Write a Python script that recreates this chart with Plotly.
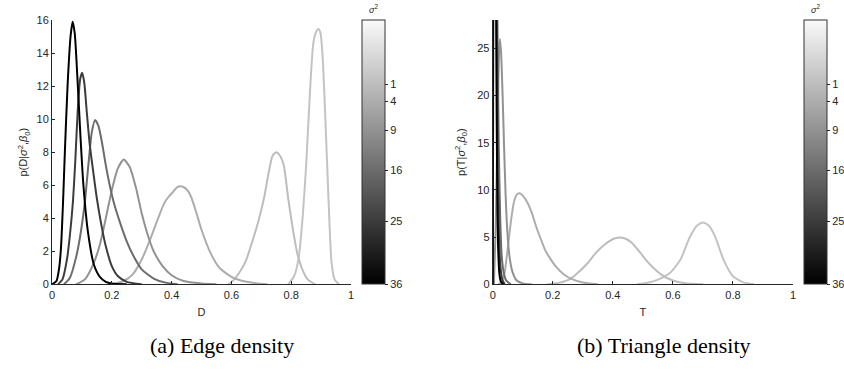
import plotly.graph_objects as go
from plotly.colors import sample_colorscale

W, H = 844, 370

# ---------------- data ----------------
sigma2_values = [0, 1, 4, 9, 16, 25, 36]
cbar_tick_values = [1, 4, 9, 16, 25, 36]
c_top = -10.2      # colour limit shown at the top of the colour bar
c_bottom = 36      # colour limit at the bottom

# (a) Edge density, one curve per sigma^2
edge_s0_x = [0.79, 0.81, 0.825, 0.838, 0.85, 0.862, 0.874, 0.884, 0.891, 0.898, 0.905, 0.913, 0.924, 0.935, 0.946, 0.96]
edge_s0_y = [0, 0.5, 1.6, 4.0, 7.2, 11.4, 14.6, 15.3, 15.45, 15.2, 13.8, 10.6, 5.5, 1.3, 0.26, 0]
edge_s1_x = [0.59, 0.61, 0.63, 0.65, 0.67, 0.69, 0.71, 0.725, 0.738, 0.75, 0.762, 0.775, 0.79, 0.805, 0.82, 0.835, 0.855, 0.88]
edge_s1_y = [0, 0.3, 0.8, 1.5, 2.6, 3.8, 5.3, 6.8, 7.8, 8.0, 7.8, 7.2, 5.2, 3.4, 1.9, 1.0, 0.3, 0]
edge_s4_x = [0.2, 0.24, 0.27, 0.3, 0.33, 0.355, 0.375, 0.39, 0.405, 0.42, 0.435, 0.45, 0.465, 0.48, 0.5, 0.53, 0.56, 0.6, 0.65, 0.72]
edge_s4_y = [0, 0.2, 0.6, 1.5, 2.8, 4.0, 4.9, 5.3, 5.6, 5.9, 5.92, 5.75, 5.3, 4.5, 3.3, 1.9, 1.0, 0.45, 0.15, 0]
edge_s9_x = [0.08, 0.11, 0.14, 0.16, 0.18, 0.2, 0.22, 0.24, 0.26, 0.28, 0.3, 0.32, 0.34, 0.37, 0.4, 0.44, 0.5, 0.55]
edge_s9_y = [0, 0.3, 1.3, 2.4, 4.0, 5.7, 7.0, 7.55, 7.1, 5.9, 4.3, 3.0, 2.0, 1.1, 0.55, 0.2, 0.05, 0]
edge_s16_x = [0.04, 0.06, 0.08, 0.095, 0.11, 0.122, 0.133, 0.144, 0.155, 0.167, 0.18, 0.193, 0.206, 0.23, 0.25, 0.27, 0.3, 0.34, 0.38, 0.42]
edge_s16_y = [0, 0.4, 1.6, 3.0, 5.0, 7.3, 9.2, 9.95, 9.6, 8.6, 7.2, 6.0, 5.0, 3.6, 2.6, 1.8, 0.9, 0.35, 0.1, 0]
edge_s25_x = [0.02, 0.035, 0.05, 0.06, 0.07, 0.078, 0.086, 0.094, 0.101, 0.108, 0.116, 0.126, 0.138, 0.15, 0.165, 0.18, 0.2, 0.22, 0.25, 0.3]
edge_s25_y = [0, 0.3, 1.5, 3.0, 5.0, 7.5, 10.5, 12.4, 12.8, 12.2, 10.5, 8.5, 6.8, 5.2, 3.6, 2.3, 1.1, 0.5, 0.15, 0]
edge_s36_x = [0.0, 0.015, 0.024, 0.03, 0.037, 0.043, 0.052, 0.062, 0.069, 0.076, 0.085, 0.095, 0.105, 0.12, 0.14, 0.16, 0.18, 0.2, 0.25]
edge_s36_y = [0, 0.2, 1.0, 2.2, 5.0, 8.0, 12.0, 15.0, 15.9, 15.2, 12.5, 9.0, 6.0, 3.2, 1.2, 0.45, 0.15, 0.05, 0]

# (b) Triangle density, one curve per sigma^2
tri_s0_x = [0.48, 0.52, 0.55, 0.59, 0.625, 0.655, 0.68, 0.7, 0.72, 0.74, 0.77, 0.8, 0.835, 0.87]
tri_s0_y = [0, 0.2, 0.5, 1.2, 2.6, 4.9, 6.2, 6.55, 6.2, 5.1, 2.5, 0.85, 0.2, 0]
tri_s1_x = [0.18, 0.22, 0.26, 0.29, 0.315, 0.34, 0.365, 0.385, 0.405, 0.425, 0.445, 0.465, 0.49, 0.515, 0.54, 0.565, 0.6, 0.64, 0.7]
tri_s1_y = [0, 0.15, 0.6, 1.4, 2.2, 3.2, 4.0, 4.5, 4.85, 4.97, 4.8, 4.35, 3.4, 2.4, 1.6, 0.95, 0.4, 0.12, 0]
tri_s4_x = [0.02, 0.03, 0.04, 0.05, 0.06, 0.07, 0.08, 0.09, 0.1, 0.115, 0.13, 0.145, 0.16, 0.175, 0.19, 0.21, 0.235, 0.26, 0.3, 0.35]
tri_s4_y = [0, 0.3, 1.3, 3.8, 6.5, 8.6, 9.5, 9.65, 9.4, 8.7, 7.6, 6.1, 4.8, 3.6, 2.8, 1.9, 1.1, 0.6, 0.2, 0]
tri_s9_x = [0.004, 0.01, 0.016, 0.021, 0.024, 0.028, 0.033, 0.038, 0.043, 0.048, 0.055, 0.065, 0.08, 0.1, 0.13]
tri_s9_y = [0, 6, 17, 24.5, 26, 24.5, 20, 14.5, 9.5, 6, 3.2, 1.4, 0.4, 0.1, 0]
tri_s16_x = [0.0, 0.003, 0.006, 0.01, 0.013, 0.016, 0.02, 0.025, 0.03, 0.037, 0.045, 0.06]
tri_s16_y = [0, 35, 60, 50, 38, 27, 15, 7, 3, 1.2, 0.4, 0]
tri_s25_x = [0.0, 0.002, 0.005, 0.008, 0.011, 0.014, 0.017, 0.021, 0.026, 0.032, 0.04]
tri_s25_y = [0, 50, 90, 70, 45, 26, 12, 5, 1.8, 0.5, 0]
tri_s36_x = [0.0, 0.001, 0.003, 0.006, 0.009, 0.012, 0.015, 0.018, 0.022, 0.027, 0.035]
tri_s36_y = [0, 60, 120, 90, 50, 25, 10, 4, 1.2, 0.3, 0]

edge_curves = [(edge_s0_x, edge_s0_y), (edge_s1_x, edge_s1_y), (edge_s4_x, edge_s4_y),
               (edge_s9_x, edge_s9_y), (edge_s16_x, edge_s16_y), (edge_s25_x, edge_s25_y),
               (edge_s36_x, edge_s36_y)]
tri_curves = [(tri_s0_x, tri_s0_y), (tri_s1_x, tri_s1_y), (tri_s4_x, tri_s4_y),
              (tri_s9_x, tri_s9_y), (tri_s16_x, tri_s16_y), (tri_s25_x, tri_s25_y),
              (tri_s36_x, tri_s36_y)]

x_ticks = [0, 0.2, 0.4, 0.6, 0.8, 1]
edge_y_ticks = [0, 2, 4, 6, 8, 10, 12, 14, 16]
tri_y_ticks = [0, 5, 10, 15, 20, 25]

# ---------------- styling ----------------
gray_scale = [[0, "rgb(0,0,0)"], [1, "rgb(250,250,250)"]]
cmin, cmax = -c_bottom, -c_top   # negated so that 36 sits at the bottom


def colour_for(s2):
    frac = (-s2 - cmin) / (cmax - cmin)
    return sample_colorscale(gray_scale, [frac])[0]


AX = "#262626"
TICKFONT = dict(family="Liberation Sans, Arial, sans-serif", size=11, color=AX)
CAPFONT = dict(family="Liberation Serif, Times New Roman, serif", size=22, color="black")

fig = go.Figure()

for (cx, cy), s2 in zip(edge_curves, sigma2_values):
    fig.add_trace(go.Scatter(x=cx, y=cy, mode="lines", xaxis="x", yaxis="y",
                             line=dict(color=colour_for(s2), width=2, shape="spline", smoothing=0.6),
                             showlegend=False, hoverinfo="skip"))
for (cx, cy), s2 in zip(tri_curves, sigma2_values):
    fig.add_trace(go.Scatter(x=cx, y=cy, mode="lines", xaxis="x2", yaxis="y2",
                             line=dict(color=colour_for(s2), width=2, shape="spline", smoothing=0.6),
                             showlegend=False, hoverinfo="skip"))

# plot areas in pixels
L1, R1 = 52, 351
L2, R2 = 492.7, 793
TOP, BOT = 20, 284.3
CB_W = 23
CB1, CB2 = 362, 804


def px_x(p):
    return p / W


def px_y(p):
    return 1 - p / H


def cbar(x_left):
    return dict(
        x=px_x(x_left), xanchor="left", xpad=0,
        y=px_y(BOT), yanchor="bottom", ypad=0,
        len=(BOT - TOP) / H, lenmode="fraction",
        thickness=CB_W, thicknessmode="pixels",
        outlinecolor="#333333", outlinewidth=1,
        tickvals=[-v for v in cbar_tick_values],
        ticktext=[str(v) for v in cbar_tick_values],
        ticks="outside", ticklen=3, tickcolor=AX,
        tickfont=TICKFONT,
    )


for xa, ya, xl in (("x", "y", CB1), ("x2", "y2", CB2)):
    fig.add_trace(go.Scatter(
        x=[None] * len(cbar_tick_values), y=[None] * len(cbar_tick_values),
        mode="markers", xaxis=xa, yaxis=ya, showlegend=False, hoverinfo="skip",
        marker=dict(color=[-v for v in cbar_tick_values], colorscale=gray_scale,
                    cmin=cmin, cmax=cmax, showscale=True, colorbar=cbar(xl))))

axis_common = dict(showline=True, linecolor=AX, linewidth=1, ticks="inside",
                   ticklen=3, tickcolor=AX, tickfont=TICKFONT, showgrid=False,
                   zeroline=False, mirror=False, automargin=False)

annotations = [
    dict(text="(a) Edge density", x=px_x(222), y=px_y(345), xref="paper", yref="paper",
         xanchor="center", yanchor="middle", showarrow=False, font=CAPFONT),
    dict(text="(b) Triangle density", x=px_x(664), y=px_y(345), xref="paper", yref="paper",
         xanchor="center", yanchor="middle", showarrow=False, font=CAPFONT),
]
for xl in (CB1, CB2):
    annotations.append(dict(text="<i>σ</i><sup>2</sup>", x=px_x(xl + CB_W / 2), y=px_y(TOP - 3),
                            xref="paper", yref="paper", xanchor="center", yanchor="bottom",
                            showarrow=False,
                            font=dict(family="Liberation Sans, Arial", size=9, color=AX)))

fig.update_layout(
    width=W, height=H,
    margin=dict(l=0, r=0, t=0, b=0, autoexpand=False),
    paper_bgcolor="white", plot_bgcolor="white",
    xaxis=dict(domain=[px_x(L1), px_x(R1)], anchor="y", range=[0, 1],
               tickvals=x_ticks, ticktext=[f"{v:g}" for v in x_ticks],
               title=dict(text="D", font=TICKFONT, standoff=8), **axis_common),
    yaxis=dict(domain=[px_y(BOT), px_y(TOP)], anchor="x", range=[0, 16],
               tickvals=edge_y_ticks,
               title=dict(text="p(D|<i>σ</i><sup>2</sup>,<i>β</i><sub>0</sub>)", font=TICKFONT, standoff=6),
               **axis_common),
    xaxis2=dict(domain=[px_x(L2), px_x(R2)], anchor="y2", range=[0, 1],
                tickvals=x_ticks, ticktext=[f"{v:g}" for v in x_ticks],
                title=dict(text="T", font=TICKFONT, standoff=8), **axis_common),
    yaxis2=dict(domain=[px_y(BOT), px_y(TOP)], anchor="x2", range=[0, 28],
                tickvals=tri_y_ticks,
                title=dict(text="p(T|<i>σ</i><sup>2</sup>,<i>β</i><sub>0</sub>)", font=TICKFONT, standoff=9),
                **axis_common),
    annotations=annotations,
)

fig.write_html("out.html", config={"displayModeBar": False},
               post_script="document.body.style.margin='0px';")
